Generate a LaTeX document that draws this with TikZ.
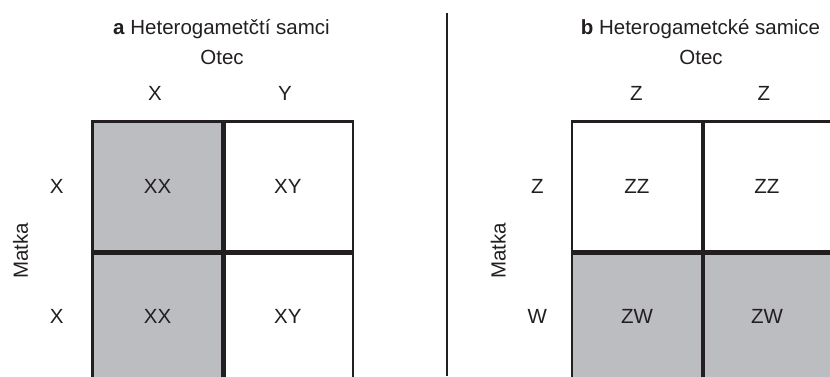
\documentclass[tikz,border=0pt]{standalone}
\usepackage{fontspec}
\setmainfont{Liberation Sans}
\definecolor{ink}{HTML}{231F20}
\definecolor{cellgrey}{HTML}{BCBDC0}
\begin{document}
\begin{tikzpicture}[x=1pt,y=-1pt,
  every node/.style={text=ink, font=\fontsize{20.5}{24}\selectfont},
  cell/.style={draw=ink, line width=2.5pt, minimum width=130pt, minimum height=130pt,
               inner sep=0pt, anchor=north west, fill=white},
  shaded/.style={cell, fill=cellgrey},
  divider/.style={draw=ink, line width=3.6pt},
  lbl/.style={inner sep=0pt, anchor=base},
  side/.style={inner sep=0pt},
  matka/.style={inner sep=0pt, rotate=90},
]
\useasboundingbox (0,0) rectangle (830,376);
\clip (0,0) rectangle (830,376);

% ---- panel a: heterogametic males (XY) ----
\node[shaded] (a11) at (91.3,120.3) {XX};
\node[cell]   (a12) at (221.6,120.3) {XY};
\node[shaded] (a21) at (91.3,250.6) {XX};
\node[cell]   (a22) at (221.6,250.6) {XY};
\draw[divider] (a11.north east) -- (a21.south east);
\draw[divider] (a11.south west) -- (a12.south east);

\node[lbl] (ta) at (221.5,34.3) {\textbf{a} Heterogametčtí samci};
\node[lbl] (oa) at (222,64.3) {Otec};
\node[lbl] (ca1) at (155,100) {X};
\node[lbl] (ca2) at (285,100) {Y};
\node[side] (ra1) at (a11.west -| 56.7,0) {X};
\node[side] (ra2) at (a21.west -| 56.7,0) {X};
\node[matka] (ma) at (20.5,251) {Matka};

% ---- divider between the panels ----
\coordinate (sepTop) at (447,13.3);
\coordinate (sepBot) at (447,376);
\draw[draw=ink, line width=2pt] (sepTop) -- (sepBot);

% ---- panel b: heterogametic females (ZW) ----
\node[cell]   (b11) at (570.7,120.3) {ZZ};
\node[cell]   (b12) at (700.7,120.3) {ZZ};
\node[shaded] (b21) at (570.7,250.6) {ZW};
\node[shaded] (b22) at (700.7,250.6) {ZW};
\draw[divider] (b11.north east) -- (b21.south east);
\draw[divider] (b11.south west) -- (b12.south east);

\node[lbl] (tb) at (700.5,34.3) {\textbf{b} Heterogametcké samice};
\node[lbl] (ob) at (701,64.3) {Otec};
\node[lbl] (cb1) at (636.5,100) {Z};
\node[lbl] (cb2) at (764,100) {Z};
\node[side] (rb1) at (b11.west -| 537.4,0) {Z};
\node[side] (rb2) at (b21.west -| 537.4,0) {W};
\node[matka] (mb) at (498.3,251) {Matka};
\end{tikzpicture}
\end{document}
